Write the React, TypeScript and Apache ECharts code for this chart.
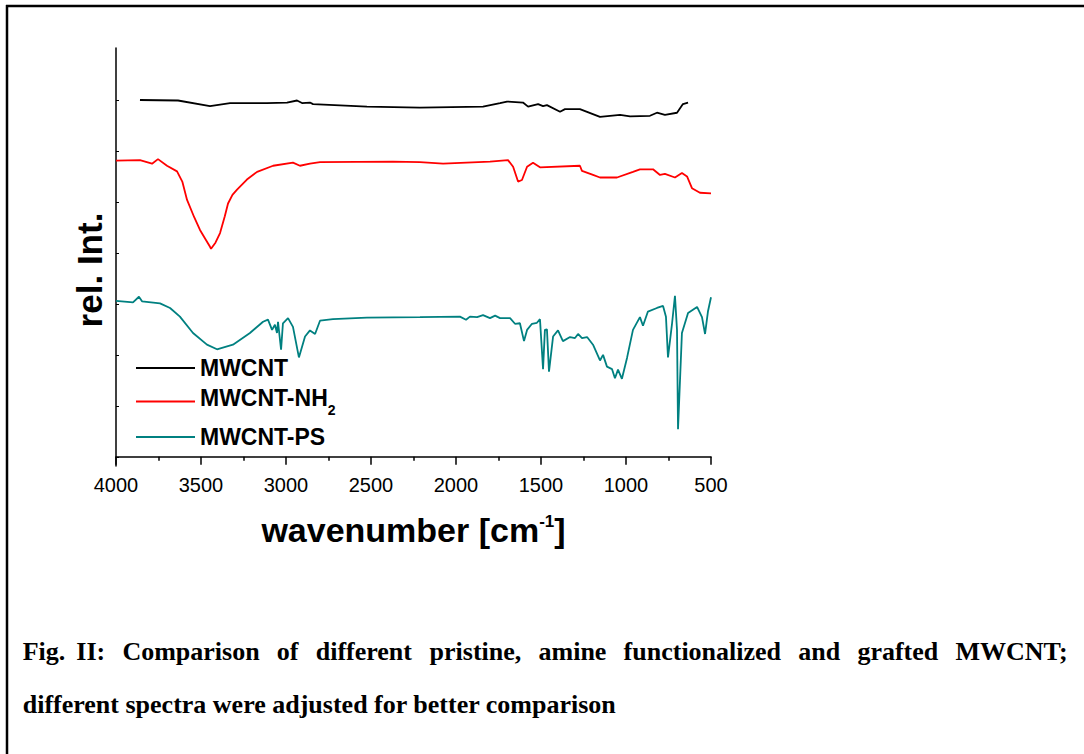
import React, { useEffect, useRef } from "react";
import * as echarts from "echarts";

// ---------- data (wavenumber [cm^-1], relative intensity) ----------
const seriesNames = ["MWCNT", "MWCNT-NH2", "MWCNT-PS"];
const seriesColors = ["#000000", "#ff0000", "#008080"];
const xTickLabels = ["500", "1000", "1500", "2000", "2500", "3000", "3500", "4000"];

const mwcnt: [number, number][] = [
  [3859, 7.0], [3635, 6.99], [3447, 6.88], [3329, 6.94], [3112, 6.94], [2994, 6.95],
  [2935, 6.99], [2906, 6.94], [2859, 6.95], [2841, 6.92], [2524, 6.87], [2212, 6.85],
  [1841, 6.87], [1741, 6.94], [1700, 6.97], [1606, 6.95], [1576, 6.87], [1517, 6.92],
  [1488, 6.88], [1465, 6.9], [1388, 6.77], [1359, 6.82], [1271, 6.82], [1153, 6.67],
  [1035, 6.71], [976, 6.68], [859, 6.69], [818, 6.75], [771, 6.71], [700, 6.75],
  [665, 6.92], [635, 6.95],
];

const mwcntNH2: [number, number][] = [
  [4000, 5.81], [3859, 5.82], [3788, 5.75], [3753, 5.84], [3700, 5.71], [3641, 5.6],
  [3610, 5.4], [3582, 5.04], [3540, 4.7], [3506, 4.45], [3470, 4.25], [3447, 4.12],
  [3441, 4.08], [3415, 4.2], [3388, 4.39], [3360, 4.72], [3341, 4.97], [3315, 5.14],
  [3288, 5.24], [3230, 5.44], [3170, 5.59], [3076, 5.71], [2959, 5.77], [2918, 5.71],
  [2859, 5.75], [2800, 5.78], [2371, 5.79], [2212, 5.78], [2076, 5.75], [1800, 5.79],
  [1694, 5.82], [1664, 5.69], [1635, 5.4], [1612, 5.43], [1582, 5.69], [1547, 5.77],
  [1506, 5.68], [1271, 5.71], [1259, 5.61], [1194, 5.53], [1153, 5.48], [1053, 5.48],
  [959, 5.59], [918, 5.64], [841, 5.64], [800, 5.53], [771, 5.55], [712, 5.48],
  [671, 5.57], [641, 5.5], [612, 5.27], [565, 5.18], [500, 5.17],
];

const mwcntPS: [number, number][] = [
  [4000, 3.06], [3900, 3.03], [3865, 3.14], [3847, 3.05], [3741, 3.01], [3682, 2.92],
  [3624, 2.75], [3547, 2.43], [3465, 2.2], [3406, 2.11], [3312, 2.2], [3212, 2.43],
  [3135, 2.65], [3106, 2.69], [3082, 2.49], [3065, 2.59], [3053, 2.43], [3047, 2.65],
  [3029, 2.1], [3018, 2.62], [2988, 2.72], [2959, 2.55], [2924, 1.95], [2888, 2.36],
  [2859, 2.48], [2829, 2.41], [2800, 2.67], [2724, 2.7], [2524, 2.73], [2212, 2.74],
  [1977, 2.75], [1941, 2.69], [1918, 2.75], [1876, 2.74], [1841, 2.78], [1800, 2.72],
  [1770, 2.77], [1741, 2.72], [1682, 2.72], [1653, 2.61], [1624, 2.62], [1600, 2.27],
  [1582, 2.49], [1553, 2.61], [1524, 2.63], [1506, 2.7], [1488, 1.72], [1477, 2.49],
  [1465, 2.5], [1453, 1.67], [1429, 2.36], [1400, 2.48], [1371, 2.27], [1329, 2.35],
  [1300, 2.33], [1282, 2.41], [1259, 2.33], [1229, 2.35], [1194, 2.2], [1153, 1.89],
  [1135, 2.0], [1112, 1.77], [1082, 1.72], [1065, 1.54], [1047, 1.71], [1024, 1.53],
  [994, 1.94], [959, 2.49], [918, 2.74], [900, 2.57], [871, 2.85], [818, 2.92],
  [782, 2.96], [765, 2.75], [753, 1.95], [729, 2.62], [712, 3.16], [700, 2.49],
  [694, 0.54], [671, 2.43], [635, 2.82], [582, 2.94], [553, 2.74], [535, 2.41],
  [518, 2.85], [500, 3.13],
];

const seriesData = [mwcnt, mwcntNH2, mwcntPS];

const yTickValues = [0, 1, 2, 3, 4, 5, 6, 7];

const captionLine1 = [
  "Fig.", "II:", "Comparison", "of", "different", "pristine,", "amine",
  "functionalized", "and", "grafted", "MWCNT;",
];
const captionLine2 = "different spectra were adjusted for better comparison";

// ---------- layout (positions only) ----------
const captionLine1X = [22.7, 76.3, 122.4, 276.8, 315.7, 429.6, 538.5, 623.6, 798.3, 857.4, 955.5];
const legendTops = [356.5, 386.5, 425.5];

const SANS = "'Liberation Sans', Arial, sans-serif";
const SERIF = "'Liberation Serif', 'Times New Roman', serif";

export default function App() {
  const ref = useRef<HTMLDivElement>(null);

  useEffect(() => {
    if (!ref.current) return;
    const chart = echarts.init(ref.current, null, { renderer: "svg" });

    const legendRich = {
      a: { fontSize: 23, fontWeight: "bold", fontFamily: SANS, color: "#000", lineHeight: 23, verticalAlign: "top" },
      s: { fontSize: 14, fontWeight: "bold", fontFamily: SANS, color: "#000", lineHeight: 14, verticalAlign: "bottom" },
      z: { fontSize: 1, lineHeight: 30, color: "rgba(0,0,0,0)" },
      p: { fontSize: 23, fontWeight: "bold", fontFamily: SANS, color: "#000" },
    };

    const graphics: any[] = [
      { type: "line", shape: { x1: 6, y1: 6, x2: 1084, y2: 6 }, style: { stroke: "#000", lineWidth: 2.5 } },
      { type: "line", shape: { x1: 7, y1: 5, x2: 7, y2: 754 }, style: { stroke: "#000", lineWidth: 2.5 } },
    ];
    captionLine1.forEach((w, i) => {
      graphics.push({
        type: "text",
        x: captionLine1X[i],
        y: 651.2,
        style: { text: w, font: `bold 26px ${SERIF}`, fill: "#000", verticalAlign: "middle", align: "left" },
      });
    });
    graphics.push({
      type: "text",
      x: 22.7,
      y: 704,
      style: { text: captionLine2, font: `bold 26px ${SERIF}`, fill: "#000", verticalAlign: "middle", align: "left" },
    });

    chart.setOption({
      animation: false,
      backgroundColor: "#ffffff",
      grid: { left: 116, right: 373, top: 48, bottom: 288, outerBoundsMode: "none" },
      xAxis: {
        type: "value",
        inverse: true,
        min: 500,
        max: 4000,
        interval: 500,
        name: "wavenumber [cm{sup|-1}]",
        nameLocation: "middle",
        nameGap: 47,
        nameTextStyle: {
          fontSize: 34,
          fontWeight: "bold",
          fontFamily: SANS,
          color: "#000",
          rich: {
            sup: { fontSize: 17, fontWeight: "bold", fontFamily: SANS, color: "#000", verticalAlign: "top", lineHeight: 17 },
          },
        },
        axisLine: { show: true, lineStyle: { color: "#000", width: 1.5 } },
        axisTick: { show: true, inside: false, length: 8, lineStyle: { color: "#000", width: 1.5 } },
        minorTick: { show: true, splitNumber: 2, length: 4, lineStyle: { color: "#000", width: 1.5 } },
        axisLabel: {
          fontSize: 20,
          fontFamily: SANS,
          color: "#000",
          margin: 9,
          formatter: (v: number) => xTickLabels.find((t) => Number(t) === v) ?? "",
        },
        splitLine: { show: false },
        minorSplitLine: { show: false },
      },
      yAxis: {
        type: "value",
        min: -0.18,
        max: 8.02,
        name: "rel. Int.",
        nameLocation: "middle",
        nameRotate: 90,
        nameGap: 9,
        nameTextStyle: {
          fontSize: 35,
          fontWeight: "bold",
          fontFamily: SANS,
          color: "#000",
          padding: [0, 26, 0, 0],
        },
        axisLine: { show: true, lineStyle: { color: "#000", width: 1.5 } },
        axisTick: { show: true, inside: true, length: 3, customValues: yTickValues, lineStyle: { color: "#000", width: 1 } },
        axisLabel: { show: false },
        splitLine: { show: false },
      },
      legend: seriesNames.map((n, i) => ({
        data: [n],
        left: 136,
        top: legendTops[i],
        orient: "vertical",
        icon: "rect",
        itemWidth: 59,
        itemHeight: 2,
        padding: 0,
        selectedMode: false,
        formatter: (name: string) =>
          name === "MWCNT-NH2" ? "{a|MWCNT-NH}{s|2}{z| }" : `{p|${name}}`,
        textStyle: { rich: legendRich },
      })),
      series: seriesNames.map((n, i) => ({
        name: n,
        type: "line",
        data: seriesData[i],
        symbol: "none",
        showSymbol: false,
        smooth: false,
        color: seriesColors[i],
        itemStyle: { color: seriesColors[i] },
        lineStyle: { color: seriesColors[i], width: 1.8 },
        emphasis: { disabled: true },
      })),
      graphic: graphics,
    });

    return () => chart.dispose();
  }, []);

  return (
    <div
      ref={ref}
      style={{ position: "fixed", left: 0, top: 0, width: 1084, height: 754, background: "#fff" }}
    />
  );
}
